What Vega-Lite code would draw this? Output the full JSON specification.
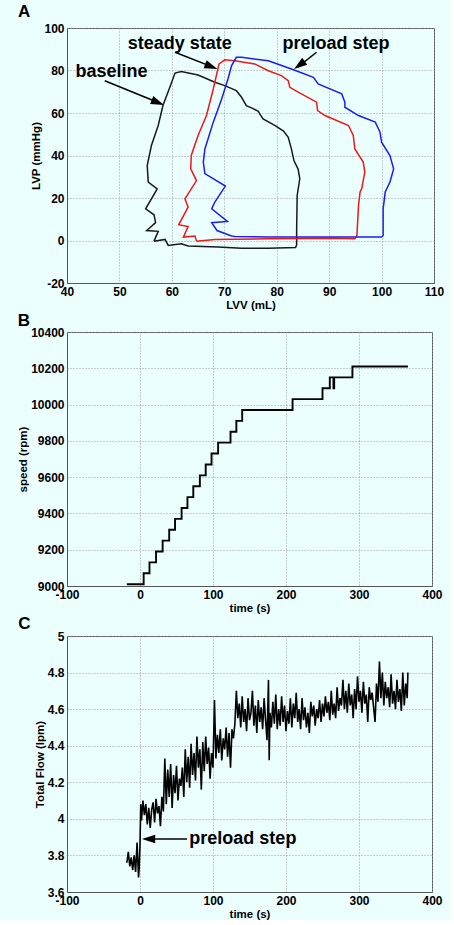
{
  "$schema": "https://vega.github.io/schema/vega-lite/v6.json",
  "padding": {"left": 17, "right": 5, "top": 2, "bottom": 0},
  "datasets": {
    "pv": [
      {"loop":"baseline","i":1,"lvv":56.6,"lvp":-0.3},{"loop":"baseline","i":2,"lvv":58.7,"lvp":0.5},{"loop":"baseline","i":3,"lvv":59.3,"lvp":-2.3},{"loop":"baseline","i":4,"lvv":61.8,"lvp":-1.5},{"loop":"baseline","i":5,"lvv":63.1,"lvp":-2.6},{"loop":"baseline","i":6,"lvv":68.8,"lvp":-3.1},{"loop":"baseline","i":7,"lvv":73.3,"lvp":-3.6},{"loop":"baseline","i":8,"lvv":78.4,"lvp":-3.6},{"loop":"baseline","i":9,"lvv":83.6,"lvp":-3.3},{"loop":"baseline","i":10,"lvv":83.8,"lvp":-2.0},{"loop":"baseline","i":11,"lvv":83.8,"lvp":4.0},{"loop":"baseline","i":12,"lvv":83.9,"lvp":21.2},{"loop":"baseline","i":13,"lvv":84.4,"lvp":29.0},{"loop":"baseline","i":14,"lvv":84.1,"lvp":33.5},{"loop":"baseline","i":15,"lvv":83.3,"lvp":37.5},{"loop":"baseline","i":16,"lvv":82.8,"lvp":43.1},{"loop":"baseline","i":17,"lvv":82.2,"lvp":48.6},{"loop":"baseline","i":18,"lvv":81.3,"lvp":51.5},{"loop":"baseline","i":19,"lvv":79.7,"lvp":54.1},{"loop":"baseline","i":20,"lvv":77.4,"lvp":57.2},{"loop":"baseline","i":21,"lvv":76.8,"lvp":59.5},{"loop":"baseline","i":22,"lvv":76.5,"lvp":60.8},{"loop":"baseline","i":23,"lvv":75.3,"lvp":62.3},{"loop":"baseline","i":24,"lvv":74.2,"lvp":63.5},{"loop":"baseline","i":25,"lvv":73.3,"lvp":67.4},{"loop":"baseline","i":26,"lvv":72.3,"lvp":70.5},{"loop":"baseline","i":27,"lvv":70.1,"lvp":72.9},{"loop":"baseline","i":28,"lvv":68.2,"lvp":74.5},{"loop":"baseline","i":29,"lvv":65.0,"lvp":77.9},{"loop":"baseline","i":30,"lvv":61.8,"lvp":79.5},{"loop":"baseline","i":31,"lvv":60.6,"lvp":78.8},{"loop":"baseline","i":32,"lvv":59.6,"lvp":72.0},{"loop":"baseline","i":33,"lvv":58.3,"lvp":63.5},{"loop":"baseline","i":34,"lvv":57.4,"lvp":54.1},{"loop":"baseline","i":35,"lvv":56.1,"lvp":44.7},{"loop":"baseline","i":36,"lvv":55.3,"lvp":35.3},{"loop":"baseline","i":37,"lvv":55.5,"lvp":27.5},{"loop":"baseline","i":38,"lvv":57.2,"lvp":24.3},{"loop":"baseline","i":39,"lvv":55.0,"lvp":14.9},{"loop":"baseline","i":40,"lvv":56.6,"lvp":12.1},{"loop":"baseline","i":41,"lvv":56.9,"lvp":8.4},{"loop":"baseline","i":42,"lvv":55.2,"lvp":4.7},{"loop":"baseline","i":43,"lvv":57.4,"lvp":4.3},{"loop":"baseline","i":44,"lvv":56.6,"lvp":-0.3},
      {"loop":"steady state","i":1,"lvv":64.7,"lvp":-0.3},{"loop":"steady state","i":2,"lvv":68.2,"lvp":0.5},{"loop":"steady state","i":3,"lvv":78.4,"lvp":0.8},{"loop":"steady state","i":4,"lvv":91.1,"lvp":1.1},{"loop":"steady state","i":5,"lvv":94.9,"lvp":0.8},{"loop":"steady state","i":6,"lvv":95.3,"lvp":2.4},{"loop":"steady state","i":7,"lvv":95.6,"lvp":16.5},{"loop":"steady state","i":8,"lvv":95.9,"lvp":22.8},{"loop":"steady state","i":9,"lvv":96.2,"lvp":24.3},{"loop":"steady state","i":10,"lvv":96.8,"lvp":32.2},{"loop":"steady state","i":11,"lvv":96.5,"lvp":36.9},{"loop":"steady state","i":12,"lvv":94.9,"lvp":43.1},{"loop":"steady state","i":13,"lvv":94.6,"lvp":49.4},{"loop":"steady state","i":14,"lvv":93.7,"lvp":54.1},{"loop":"steady state","i":15,"lvv":89.2,"lvp":58.8},{"loop":"steady state","i":16,"lvv":87.8,"lvp":61.1},{"loop":"steady state","i":17,"lvv":87.6,"lvp":65.1},{"loop":"steady state","i":18,"lvv":84.1,"lvp":69.8},{"loop":"steady state","i":19,"lvv":82.5,"lvp":72.1},{"loop":"steady state","i":20,"lvv":82.2,"lvp":75.2},{"loop":"steady state","i":21,"lvv":80.9,"lvp":77.6},{"loop":"steady state","i":22,"lvv":78.4,"lvp":79.9},{"loop":"steady state","i":23,"lvv":75.8,"lvp":83.1},{"loop":"steady state","i":24,"lvv":72.0,"lvp":84.6},{"loop":"steady state","i":25,"lvv":70.1,"lvp":85.0},{"loop":"steady state","i":26,"lvv":69.0,"lvp":83.1},{"loop":"steady state","i":27,"lvv":67.9,"lvp":71.3},{"loop":"steady state","i":28,"lvv":66.6,"lvp":58.8},{"loop":"steady state","i":29,"lvv":65.0,"lvp":49.4},{"loop":"steady state","i":30,"lvv":63.7,"lvp":40.0},{"loop":"steady state","i":31,"lvv":63.6,"lvp":33.7},{"loop":"steady state","i":32,"lvv":64.7,"lvp":28.2},{"loop":"steady state","i":33,"lvv":62.5,"lvp":19.6},{"loop":"steady state","i":34,"lvv":63.1,"lvp":15.7},{"loop":"steady state","i":35,"lvv":61.3,"lvp":7.4},{"loop":"steady state","i":36,"lvv":63.1,"lvp":6.6},{"loop":"steady state","i":37,"lvv":62.2,"lvp":1.6},{"loop":"steady state","i":38,"lvv":64.4,"lvp":2.1},{"loop":"steady state","i":39,"lvv":64.7,"lvp":-0.3},
      {"loop":"preload step","i":1,"lvv":71.4,"lvp":2.1},{"loop":"preload step","i":2,"lvv":72.0,"lvp":1.9},{"loop":"preload step","i":3,"lvv":78.4,"lvp":1.6},{"loop":"preload step","i":4,"lvv":91.1,"lvp":1.6},{"loop":"preload step","i":5,"lvv":100.0,"lvp":1.6},{"loop":"preload step","i":6,"lvv":100.3,"lvp":2.4},{"loop":"preload step","i":7,"lvv":100.3,"lvp":14.9},{"loop":"preload step","i":8,"lvv":100.7,"lvp":22.8},{"loop":"preload step","i":9,"lvv":101.6,"lvp":27.5},{"loop":"preload step","i":10,"lvv":102.3,"lvp":33.7},{"loop":"preload step","i":11,"lvv":101.6,"lvp":40.0},{"loop":"preload step","i":12,"lvv":100.0,"lvp":46.3},{"loop":"preload step","i":13,"lvv":99.7,"lvp":51.0},{"loop":"preload step","i":14,"lvv":98.8,"lvp":55.7},{"loop":"preload step","i":15,"lvv":95.6,"lvp":58.8},{"loop":"preload step","i":16,"lvv":93.0,"lvp":62.7},{"loop":"preload step","i":17,"lvv":93.0,"lvp":65.1},{"loop":"preload step","i":18,"lvv":92.4,"lvp":69.0},{"loop":"preload step","i":19,"lvv":87.9,"lvp":73.7},{"loop":"preload step","i":20,"lvv":87.0,"lvp":76.8},{"loop":"preload step","i":21,"lvv":82.8,"lvp":80.7},{"loop":"preload step","i":22,"lvv":78.4,"lvp":84.6},{"loop":"preload step","i":23,"lvv":73.3,"lvp":86.2},{"loop":"preload step","i":24,"lvv":72.3,"lvp":86.2},{"loop":"preload step","i":25,"lvv":71.4,"lvp":82.3},{"loop":"preload step","i":26,"lvv":70.7,"lvp":76.0},{"loop":"preload step","i":27,"lvv":69.5,"lvp":66.6},{"loop":"preload step","i":28,"lvv":67.9,"lvp":55.7},{"loop":"preload step","i":29,"lvv":66.3,"lvp":43.1},{"loop":"preload step","i":30,"lvv":66.0,"lvp":36.9},{"loop":"preload step","i":31,"lvv":66.3,"lvp":31.5},{"loop":"preload step","i":32,"lvv":70.2,"lvp":25.6},{"loop":"preload step","i":33,"lvv":68.2,"lvp":18.1},{"loop":"preload step","i":34,"lvv":67.6,"lvp":14.9},{"loop":"preload step","i":35,"lvv":70.6,"lvp":9.0},{"loop":"preload step","i":36,"lvv":67.6,"lvp":8.4},{"loop":"preload step","i":37,"lvv":68.6,"lvp":4.7},{"loop":"preload step","i":38,"lvv":71.4,"lvp":2.1}
    ],
    "speed": [
      {"t":-18,"rpm":9010},{"t":5,"rpm":9070},{"t":13,"rpm":9130},{"t":22,"rpm":9190},{"t":31,"rpm":9250},{"t":40,"rpm":9310},{"t":48,"rpm":9370},{"t":57,"rpm":9430},{"t":65,"rpm":9490},{"t":73,"rpm":9550},{"t":82,"rpm":9610},{"t":90,"rpm":9670},{"t":98,"rpm":9730},{"t":107,"rpm":9790},{"t":124,"rpm":9850},{"t":132,"rpm":9910},{"t":140,"rpm":9970},{"t":209,"rpm":10030},{"t":250,"rpm":10090},{"t":260,"rpm":10150},{"t":265,"rpm":10090},{"t":266,"rpm":10150},{"t":291,"rpm":10210},{"t":367,"rpm":10210}
    ],
    "flow": [
      {"t":-18,"f":3.76},{"t":-16,"f":3.82},{"t":-14,"f":3.74},{"t":-12,"f":3.79},{"t":-10,"f":3.72},{"t":-8,"f":3.80},{"t":-6,"f":3.71},{"t":-4,"f":3.87},{"t":-2,"f":3.68},{"t":-1,"f":3.74},{"t":0,"f":3.86},{"t":1,"f":4.08},
      {"t":2,"f":3.99},{"t":4,"f":4.10},{"t":6,"f":4.02},{"t":8,"f":4.08},{"t":10,"f":3.97},{"t":12,"f":4.06},{"t":14,"f":3.95},{"t":16,"f":4.05},{"t":18,"f":4.09},{"t":20,"f":3.98},{"t":22,"f":4.11},{"t":24,"f":4.03},{"t":26,"f":4.07},{"t":28,"f":3.96},{"t":30,"f":4.12},{"t":32,"f":4.04},{"t":34,"f":4.33},{"t":36,"f":4.08},{"t":38,"f":4.27},{"t":40,"f":4.12},{"t":42,"f":4.30},{"t":44,"f":4.06},{"t":46,"f":4.24},{"t":48,"f":4.14},{"t":50,"f":4.29},{"t":52,"f":4.10},{"t":54,"f":4.22},{"t":56,"f":4.18},{"t":58,"f":4.28},{"t":60,"f":4.12},{"t":62,"f":4.38},{"t":64,"f":4.20},{"t":66,"f":4.34},{"t":68,"f":4.17},{"t":70,"f":4.41},{"t":72,"f":4.24},{"t":74,"f":4.36},{"t":76,"f":4.21},{"t":78,"f":4.45},{"t":80,"f":4.28},{"t":82,"f":4.38},{"t":84,"f":4.16},{"t":86,"f":4.42},{"t":88,"f":4.26},{"t":90,"f":4.45},{"t":92,"f":4.30},{"t":94,"f":4.39},{"t":96,"f":4.22},{"t":98,"f":4.36},{"t":100,"f":4.28},{"t":102,"f":4.65},{"t":104,"f":4.33},{"t":106,"f":4.46},{"t":108,"f":4.36},{"t":110,"f":4.49},{"t":112,"f":4.32},{"t":114,"f":4.44},{"t":116,"f":4.38},{"t":118,"f":4.50},{"t":120,"f":4.34},{"t":122,"f":4.47},{"t":124,"f":4.28},{"t":126,"f":4.49},{"t":128,"f":4.44},{"t":130,"f":4.52},
      {"t":132,"f":4.70},{"t":134,"f":4.55},{"t":136,"f":4.63},{"t":138,"f":4.50},{"t":140,"f":4.67},{"t":142,"f":4.53},{"t":144,"f":4.60},{"t":146,"f":4.48},{"t":148,"f":4.66},{"t":150,"f":4.54},{"t":152,"f":4.58},{"t":154,"f":4.70},{"t":156,"f":4.51},{"t":158,"f":4.62},{"t":160,"f":4.47},{"t":162,"f":4.65},{"t":164,"f":4.53},{"t":166,"f":4.61},{"t":168,"f":4.49},{"t":170,"f":4.66},{"t":172,"f":4.54},{"t":174,"f":4.43},{"t":176,"f":4.76},{"t":177,"f":4.32},{"t":178,"f":4.58},{"t":180,"f":4.50},{"t":182,"f":4.64},{"t":184,"f":4.52},{"t":186,"f":4.68},{"t":188,"f":4.49},{"t":190,"f":4.60},{"t":192,"f":4.51},{"t":194,"f":4.67},{"t":196,"f":4.53},{"t":198,"f":4.62},{"t":200,"f":4.48},{"t":202,"f":4.59},{"t":204,"f":4.52},{"t":206,"f":4.66},{"t":208,"f":4.50},{"t":210,"f":4.63},{"t":212,"f":4.55},{"t":214,"f":4.69},{"t":216,"f":4.53},{"t":218,"f":4.60},{"t":220,"f":4.49},{"t":222,"f":4.66},{"t":224,"f":4.54},{"t":226,"f":4.61},{"t":228,"f":4.50},{"t":230,"f":4.58},{"t":232,"f":4.47},{"t":234,"f":4.64},{"t":236,"f":4.56},{"t":238,"f":4.62},{"t":240,"f":4.51},{"t":242,"f":4.60},{"t":244,"f":4.55},{"t":246,"f":4.65},{"t":248,"f":4.53},
      {"t":250,"f":4.63},{"t":252,"f":4.56},{"t":254,"f":4.67},{"t":256,"f":4.58},{"t":258,"f":4.64},{"t":260,"f":4.54},{"t":262,"f":4.70},{"t":264,"f":4.57},{"t":266,"f":4.63},{"t":268,"f":4.55},{"t":270,"f":4.72},{"t":272,"f":4.59},{"t":274,"f":4.66},{"t":276,"f":4.62},{"t":278,"f":4.76},{"t":280,"f":4.60},{"t":282,"f":4.70},{"t":284,"f":4.58},{"t":286,"f":4.74},{"t":288,"f":4.62},{"t":290,"f":4.68},{"t":292,"f":4.55},{"t":294,"f":4.71},{"t":296,"f":4.60},{"t":298,"f":4.78},{"t":300,"f":4.64},{"t":302,"f":4.70},{"t":304,"f":4.58},{"t":306,"f":4.75},{"t":308,"f":4.63},{"t":310,"f":4.68},{"t":312,"f":4.53},{"t":314,"f":4.72},{"t":316,"f":4.65},{"t":318,"f":4.69},{"t":320,"f":4.61},{"t":322,"f":4.53},{"t":324,"f":4.74},{"t":326,"f":4.64},{"t":328,"f":4.86},{"t":330,"f":4.66},{"t":332,"f":4.80},{"t":334,"f":4.62},{"t":336,"f":4.75},{"t":338,"f":4.66},{"t":340,"f":4.72},{"t":342,"f":4.61},{"t":344,"f":4.79},{"t":346,"f":4.63},{"t":348,"f":4.70},{"t":350,"f":4.60},{"t":352,"f":4.76},{"t":354,"f":4.64},{"t":356,"f":4.71},{"t":358,"f":4.59},{"t":360,"f":4.80},{"t":362,"f":4.62},{"t":364,"f":4.74},{"t":366,"f":4.66},{"t":367,"f":4.80}
    ]
  },
  "vconcat": [
    {
      "width": 367, "height": 255,
      "title": {"text": "A", "offset": 1, "dx": -13},
      "layer": [
        {
          "data": {"name": "pv"},
          "mark": {"type": "line", "strokeWidth": 1.5, "clip": true},
          "encoding": {
            "x": {"field": "lvv", "type": "quantitative", "scale": {"domain": [40, 110], "nice": false}, "axis": {"title": "LVV (mL)", "values": [40,50,60,70,80,90,100,110], "tickCount": 20}},
            "y": {"field": "lvp", "type": "quantitative", "scale": {"domain": [-20, 100], "nice": false}, "axis": {"title": "LVP (mmHg)", "values": [-20,0,20,40,60,80,100], "tickCount": 20}},
            "order": {"field": "i", "type": "quantitative"},
            "color": {"field": "loop", "type": "nominal", "scale": {"domain": ["baseline", "steady state", "preload step"], "range": ["#1a1a1a", "#f01818", "#1c1cf5"]}, "legend": null}
          }
        },
        {"data": {"values": [{}]}, "mark": {"type": "text", "text": "baseline", "align": "left", "baseline": "alphabetic", "fontSize": 18, "fontWeight": "bold", "color": "#000"}, "encoding": {"x": {"datum": 41.6, "type": "quantitative"}, "y": {"datum": 77.1, "type": "quantitative"}}},
        {"data": {"values": [{}]}, "mark": {"type": "text", "text": "steady state", "align": "left", "baseline": "alphabetic", "fontSize": 18, "fontWeight": "bold", "color": "#000"}, "encoding": {"x": {"datum": 51.6, "type": "quantitative"}, "y": {"datum": 90.1, "type": "quantitative"}}},
        {"data": {"values": [{}]}, "mark": {"type": "text", "text": "preload step", "align": "left", "baseline": "alphabetic", "fontSize": 18, "fontWeight": "bold", "color": "#000"}, "encoding": {"x": {"datum": 81.1, "type": "quantitative"}, "y": {"datum": 90.1, "type": "quantitative"}}},
        {"data": {"values": [{}]}, "mark": {"type": "rule", "strokeWidth": 1.5, "color": "#000"}, "encoding": {"x": {"datum": 47.2, "type": "quantitative"}, "y": {"datum": 75.2, "type": "quantitative"}, "x2": {"datum": 57.5}, "y2": {"datum": 64.8}}},
        {"data": {"values": [{}]}, "mark": {"type": "point", "shape": "M0,0L-1,-0.32L-1,0.32Z", "size": 700, "filled": true, "opacity": 1, "color": "#000", "angle": 22}, "encoding": {"x": {"datum": 58.5, "type": "quantitative"}, "y": {"datum": 63.8, "type": "quantitative"}}},
        {"data": {"values": [{}]}, "mark": {"type": "rule", "strokeWidth": 1.5, "color": "#000"}, "encoding": {"x": {"datum": 60.6, "type": "quantitative"}, "y": {"datum": 88.6, "type": "quantitative"}, "x2": {"datum": 67.7}, "y2": {"datum": 81.7}}},
        {"data": {"values": [{}]}, "mark": {"type": "point", "shape": "M0,0L-1,-0.32L-1,0.32Z", "size": 700, "filled": true, "opacity": 1, "color": "#000", "angle": 21}, "encoding": {"x": {"datum": 68.7, "type": "quantitative"}, "y": {"datum": 80.7, "type": "quantitative"}}},
        {"data": {"values": [{}]}, "mark": {"type": "rule", "strokeWidth": 1.5, "color": "#000"}, "encoding": {"x": {"datum": 87.6, "type": "quantitative"}, "y": {"datum": 88.6, "type": "quantitative"}, "x2": {"datum": 84.0}, "y2": {"datum": 81.6}}},
        {"data": {"values": [{}]}, "mark": {"type": "point", "shape": "M0,0L-1,-0.32L-1,0.32Z", "size": 700, "filled": true, "opacity": 1, "color": "#000", "angle": 144}, "encoding": {"x": {"datum": 83.3, "type": "quantitative"}, "y": {"datum": 80.7, "type": "quantitative"}}}
      ]
    },
    {
      "width": 365, "height": 254,
      "title": {"text": "B", "offset": -4, "dx": 0},
      "data": {"name": "speed"},
      "mark": {"type": "line", "interpolate": "step-after", "strokeWidth": 1.9, "color": "#000"},
      "encoding": {
        "x": {"field": "t", "type": "quantitative", "scale": {"domain": [-100, 400], "nice": false}, "axis": {"title": "time (s)", "values": [-100,0,100,200,300,400], "tickCount": 20}},
        "y": {"field": "rpm", "type": "quantitative", "scale": {"domain": [9000, 10400], "nice": false}, "axis": {"title": "speed (rpm)", "format": "d", "values": [9000,9200,9400,9600,9800,10000,10200,10400], "tickCount": 20}}
      }
    },
    {
      "width": 365, "height": 256,
      "title": {"text": "C", "offset": -3, "dx": -16},
      "layer": [
        {
          "data": {"name": "flow"},
          "mark": {"type": "line", "strokeWidth": 1.6, "color": "#000"},
          "encoding": {
            "x": {"field": "t", "type": "quantitative", "scale": {"domain": [-100, 400], "nice": false}, "axis": {"title": "time (s)", "values": [-100,0,100,200,300,400], "tickCount": 20}},
            "y": {"field": "f", "type": "quantitative", "scale": {"domain": [3.6, 5], "nice": false}, "axis": {"title": "Total Flow (lpm)", "format": "~g", "values": [3.6,3.8,4,4.2,4.4,4.6,4.8,5], "tickCount": 20}}
          }
        },
        {"data": {"values": [{}]}, "mark": {"type": "text", "text": "preload step", "align": "left", "baseline": "alphabetic", "fontSize": 18, "fontWeight": "bold", "color": "#000"}, "encoding": {"x": {"datum": 67.6, "type": "quantitative"}, "y": {"datum": 3.863, "type": "quantitative"}}},
        {"data": {"values": [{}]}, "mark": {"type": "rule", "strokeWidth": 1.5, "color": "#000"}, "encoding": {"x": {"datum": 64.4, "type": "quantitative"}, "y": {"datum": 3.89, "type": "quantitative"}, "x2": {"datum": 10}, "y2": {"datum": 3.89}}},
        {"data": {"values": [{}]}, "mark": {"type": "point", "shape": "M0,0L-1,-0.32L-1,0.32Z", "size": 700, "filled": true, "opacity": 1, "color": "#000", "angle": 180}, "encoding": {"x": {"datum": 2.7, "type": "quantitative"}, "y": {"datum": 3.89, "type": "quantitative"}}}
      ]
    }
  ],
  "spacing": 0,
  "config": {
    "background": "#ebffff",
    "font": "Liberation Sans",
    "view": {"stroke": "#555", "strokeWidth": 1},
    "axis": {
      "labelFont": "Liberation Sans", "labelFontWeight": "bold", "labelFontSize": 12, "labelColor": "#000",
      "titleFont": "Liberation Sans", "titleFontWeight": "bold", "titleFontSize": 11.5, "titleColor": "#000",
      "ticks": false, "domainColor": "#555", "grid": true, "gridColor": "#9a9a9a", "gridDash": [1, 2], "gridOpacity": 1,
      "labelPadding": 3, "labelFlush": false, "labelOverlap": false, "titlePadding": 2
    },
    "title": {"fontSize": 17, "fontWeight": "bold", "anchor": "start", "frame": "bounds", "font": "Liberation Sans", "color": "#000"},
    "locale": {"number": {"decimal": ".", "thousands": ",", "grouping": [3], "currency": ["$", ""], "minus": "-"}}
  }
}
